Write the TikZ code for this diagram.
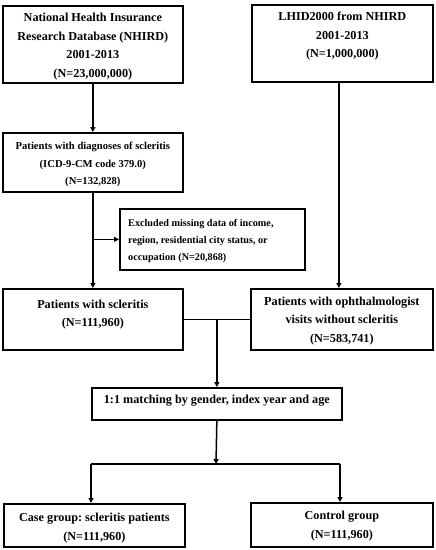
\documentclass[tikz,border=0pt]{standalone}
\usepackage{fontspec}
\setmainfont{Liberation Serif}
\usetikzlibrary{arrows.meta,calc}
\begin{document}
\frenchspacing
\begin{tikzpicture}[x=1pt,y=-1pt]
\tikzset{
 box/.style={draw, line width=1.7pt, anchor=north west, inner sep=0pt},
 lbl/.style={align=center, inner sep=0pt, font=\bfseries\fontsize{12.2}{18.5}\selectfont},
 lbls/.style={align=center, inner sep=0pt, font=\bfseries\fontsize{10.6}{17.5}\selectfont},
 conn/.style={line width=1.5pt, -{Triangle[length=5pt,width=5pt]}},
 plainline/.style={line width=1.5pt}
}
\useasboundingbox (0,0) rectangle (436,550);
% boxes
\node[box, minimum width=180pt, minimum height=77pt] (b1) at (2,5) {};
\node[box, minimum width=181pt, minimum height=77pt] (b2) at (251,4) {};
\node[box, minimum width=180pt, minimum height=59pt] (b3) at (2,132) {};
\node[box, minimum width=185pt, minimum height=61pt] (ex) at (119,208) {};
\node[box, minimum width=180pt, minimum height=61pt] (b4) at (2,288) {};
\node[box, minimum width=182pt, minimum height=61pt] (b5) at (250,288) {};
\node[box, minimum width=250pt, minimum height=32pt] (m) at (91,387) {};
\node[box, minimum width=181pt, minimum height=43pt] (c) at (3,503) {};
\node[box, minimum width=182pt, minimum height=44pt] (k) at (250,502) {};
% labels
\node[lbl] (t1) at ([yshift=-2pt]b1.center) {National Health Insurance\\Research Database (NHIRD)\\2001-2013\\(N=23,000,000)};
\node[lbl] (t2) at ([yshift=7pt]b2.center) {LHID2000 from NHIRD\\2001-2013\\(N=1,000,000)};
\node[lbls] (t3) at ([yshift=-2.5pt]b3.center) {Patients with diagnoses of scleritis\\(ICD-9-CM code 379.0)\\(N=132,828)};
\node[lbls, align=left, anchor=west, font=\bfseries\fontsize{10.2}{17}\selectfont] (tx) at ([xshift=9pt,yshift=-1.5pt]ex.west) {Excluded missing data of income,\\region, residential city status, or\\occupation (N=20,868)};
\node[lbl] (t4) at ([yshift=5pt]b4.center) {Patients with scleritis\\(N=111,960)};
\node[lbl] (t5) at ([yshift=-1.5pt]b5.center) {Patients with ophthalmologist\\visits without scleritis\\(N=583,741)};
\node[lbl] (tm) at ([yshift=3pt]m.center) {1:1 matching by gender, index year and age};
\node[lbl] (tc) at ([yshift=-2.5pt]c.center) {Case group: scleritis patients\\(N=111,960)};
\node[lbl] (tk) at ([yshift=-1pt]k.center) {Control group\\(N=111,960)};
% connectors
\draw[conn] (b1.south) -- (b3.north);
\draw[conn] (b3.south) -- (b4.north);
\draw[conn] (b3.south |- ex.west) -- (ex.west);
\coordinate (r1) at ([xshift=-3.5pt]b2.south);
\draw[conn] (r1) -- (r1 |- b5.north);
\draw[plainline] (b4.east) -- (b5.west);
\coordinate (j) at ($(b4.east)!0.5!(b5.west)$);
\draw[conn] (j) -- (j |- m.north);
\coordinate (sp) at (216,464);
\coordinate (sl) at (91,464);
\coordinate (sr) at (340,464);
\draw[conn] (m.south) -- (sp);
\draw[plainline] (sl) -- (sr);
\draw[conn] (sl) -- (sl |- c.north);
\draw[conn] (sr) -- (sr |- k.north);
\end{tikzpicture}
\end{document}
